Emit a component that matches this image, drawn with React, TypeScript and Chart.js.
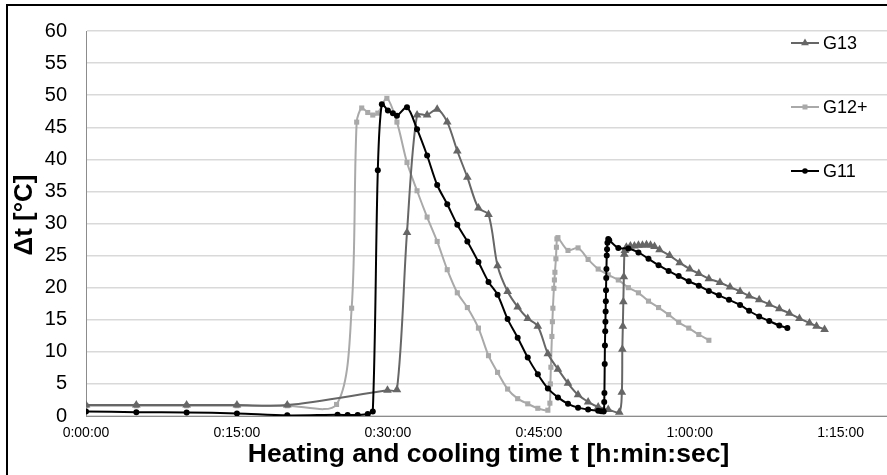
import React, { useEffect, useRef } from "react";
import { Chart, registerables } from "chart.js";

Chart.register(...registerables);

// ---- Data (time in minutes, Δt in °C) ----
const seriesLabels = ["G13", "G12+", "G11"];

const g13Time = [
  0, 5, 10, 15, 20, 29.96, 30.9, 31.9, 32.9, 33.9, 34.9, 35.9, 36.9, 37.9, 39.0, 40.0, 40.9,
  41.9, 42.9, 43.9, 44.9, 45.9, 46.9, 47.9, 48.9, 49.9, 50.9, 51.9, 53.0,
  53.25, 53.3, 53.35, 53.4, 53.45, 53.5, 53.55, 53.7, 54.1, 54.5, 54.9, 55.3, 55.7, 56.1, 56.5,
  57.0, 58.0, 59.0, 60.0, 60.9, 61.9, 63.0, 64.0, 65.0, 65.9, 66.9, 67.9, 68.9, 69.9, 70.9,
  71.9, 72.6, 73.4,
];
const g13Val = [
  1.7, 1.7, 1.7, 1.7, 1.7, 4.0, 4.1, 28.6, 46.9, 46.9, 47.8, 45.8, 41.3, 37.2, 32.4, 31.4, 23.4,
  19.4, 17.0, 15.2, 14.0, 9.7, 7.3, 5.1, 3.3, 2.2, 1.4, 1.0, 0.6,
  3.7, 10.4, 14.0, 17.8, 21.7, 25.2, 25.8, 26.3, 26.5, 26.5, 26.6, 26.6, 26.7, 26.6, 26.4,
  25.9, 25.0, 23.9, 22.9, 22.2, 21.4, 20.8, 20.1, 19.4, 18.7, 18.1, 17.4, 16.7, 16.0, 15.2,
  14.5, 14.0, 13.5,
];

const g12Time = [
  0, 5, 10, 15, 20, 24.9, 26.4, 26.9, 27.4, 28.0, 28.5, 29.0, 29.9, 30.9, 31.9, 32.9, 33.9,
  34.9, 35.9, 36.9, 37.9, 39.0, 40.0, 40.9, 41.9, 42.9, 43.9, 44.9, 45.9,
  46.1, 46.15, 46.2, 46.3, 46.35, 46.4, 46.5, 46.55, 46.6, 46.7, 46.75, 46.8, 46.9,
  47.9, 48.9, 49.9, 50.9, 51.9, 52.9, 53.9, 54.9, 55.9, 56.9, 57.9, 58.9, 59.9, 60.9, 61.9,
];
const g12Val = [
  1.6, 1.6, 1.6, 1.6, 1.6, 1.8, 16.8, 45.8, 48.0, 47.3, 46.9, 47.2, 49.5, 45.8, 39.5, 35.1, 31.0,
  27.2, 22.8, 19.2, 16.9, 13.7, 9.4, 6.8, 4.2, 2.7, 1.9, 1.2, 0.9,
  2.0, 5.0, 7.6, 12.4, 14.7, 16.8, 19.9, 21.2, 22.4, 24.5, 26.3, 27.6, 27.8,
  25.8, 26.2, 24.4, 22.9, 22.0, 21.2, 20.0, 19.2, 17.9, 16.9, 15.8, 14.6, 13.7, 12.7, 11.8,
];

const g11Time = [
  0, 5, 10, 15, 20, 25, 26, 27, 28, 28.5, 29.0, 29.4, 30.0, 30.5, 30.9, 31.9, 32.9, 33.9, 34.9,
  35.9, 36.9, 37.9, 39.0, 40.0, 40.9, 41.9, 42.9, 43.9, 44.9, 45.9, 46.9, 47.9, 48.9, 49.9,
  50.9, 51.2, 51.45, 51.5, 51.52, 51.55, 51.57, 51.6, 51.62, 51.64, 51.66, 51.68, 51.7, 51.72,
  51.75, 51.78, 51.82, 51.9, 52.0, 52.9, 53.9, 54.9, 55.9, 56.9, 57.9, 58.9, 59.9, 60.9, 61.9,
  62.9, 63.9, 65.0, 65.9, 66.9, 67.9, 68.9, 69.7,
];
const g11Val = [
  0.7, 0.6, 0.55, 0.4, 0.1, 0.2, 0.15, 0.15, 0.3, 0.7, 38.3, 48.6, 47.6, 47.2, 46.8, 48.1, 44.7,
  40.6, 36.0, 33.0, 29.8, 27.2, 24.0, 20.9, 18.9, 15.1, 12.2, 9.1, 6.5, 4.3, 2.9, 1.9, 1.3, 1.0,
  0.8, 0.75, 0.7, 2.2, 3.6, 8.1, 11.0, 13.2, 14.7, 16.3, 17.9, 19.6, 21.5, 22.9,
  25.0, 26.0, 27.0, 27.6, 27.4, 26.2, 26.1, 25.5, 24.5, 23.5, 22.6, 21.8, 21.0, 20.3, 19.5,
  18.8, 18.1, 17.3, 16.4, 15.5, 14.8, 14.1, 13.7,
];

const xTickMinutes = [0, 15, 30, 45, 60, 75];
const xMax = 80;
const yMin = 0;
const yMax = 60;
const yStep = 5;

const xTitle = "Heating and cooling time t [h:min:sec]";
const yTitle = "Δt [°C]";

const FONT = "'Liberation Sans', Arial, sans-serif";
const colors = { g13: "#666666", g12: "#a9a9a9", g11: "#000000" };

function fmtTime(min: number): string {
  const total = Math.round(min * 60);
  const h = Math.floor(total / 3600);
  const m = Math.floor((total % 3600) / 60);
  const s = total % 60;
  return `${h}:${String(m).padStart(2, "0")}:${String(s).padStart(2, "0")}`;
}

function toPoints(t: number[], v: number[]) {
  return t.map((x, i) => ({ x, y: v[i] }));
}

function drawMarker(ctx: CanvasRenderingContext2D, style: string, x: number, y: number, r: number, color: string) {
  ctx.fillStyle = color;
  ctx.beginPath();
  if (style === "triangle") {
    ctx.moveTo(x, y - r);
    ctx.lineTo(x + r * 0.866, y + r * 0.5);
    ctx.lineTo(x - r * 0.866, y + r * 0.5);
    ctx.closePath();
  } else if (style === "rect") {
    ctx.rect(x - r, y - r, 2 * r, 2 * r);
  } else {
    ctx.arc(x, y, r, 0, Math.PI * 2);
  }
  ctx.fill();
}

const legendPlugin = {
  id: "customLegend",
  afterDraw(chart: any) {
    const ctx: CanvasRenderingContext2D = chart.ctx;
    const items = [
      { label: seriesLabels[0], color: colors.g13, style: "triangle", r: 4.5, y: 43 },
      { label: seriesLabels[1], color: colors.g12, style: "rect", r: 2.5, y: 107 },
      { label: seriesLabels[2], color: colors.g11, style: "circle", r: 2.8, y: 171 },
    ];
    ctx.save();
    items.forEach((it) => {
      ctx.strokeStyle = it.color;
      ctx.lineWidth = 2;
      ctx.beginPath();
      ctx.moveTo(791, it.y);
      ctx.lineTo(819, it.y);
      ctx.stroke();
      drawMarker(ctx, it.style, 805, it.y, it.r, it.color);
      ctx.fillStyle = "#000";
      ctx.font = `18px ${FONT}`;
      ctx.textBaseline = "middle";
      ctx.textAlign = "left";
      ctx.fillText(it.label, 823, it.y + 1);
    });
    // y-axis title
    ctx.translate(25, 215);
    ctx.rotate(-Math.PI / 2);
    ctx.font = `bold 26px ${FONT}`;
    ctx.textAlign = "center";
    ctx.textBaseline = "middle";
    ctx.fillStyle = "#000";
    ctx.fillText(yTitle, 0, 0);
    ctx.restore();
  },
};

const framePlugin = {
  id: "frame",
  afterDraw(chart: any) {
    const ctx: CanvasRenderingContext2D = chart.ctx;
    ctx.save();
    ctx.strokeStyle = "#000";
    ctx.lineWidth = 2;
    ctx.strokeRect(7, 5, chart.width + 20, chart.height + 20);
    ctx.restore();
  },
};

export default function App() {
  const ref = useRef<HTMLCanvasElement | null>(null);

  useEffect(() => {
    if (!ref.current) return;
    const common = {
      borderWidth: 2,
      tension: 0.3,
      pointBorderWidth: 0,
      fill: false,
    };
    const chart = new Chart(ref.current, {
      type: "line",
      data: {
        datasets: [
          {
            ...common,
            label: seriesLabels[2],
            data: toPoints(g11Time, g11Val),
            borderColor: colors.g11,
            backgroundColor: colors.g11,
            pointStyle: "circle",
            pointRadius: 3,
          },
          {
            ...common,
            label: seriesLabels[0],
            data: toPoints(g13Time, g13Val),
            borderColor: colors.g13,
            backgroundColor: colors.g13,
            pointStyle: "triangle",
            pointRadius: 5,
          },
          {
            ...common,
            label: seriesLabels[1],
            data: toPoints(g12Time, g12Val),
            borderColor: colors.g12,
            backgroundColor: colors.g12,
            pointStyle: "rect",
            pointRadius: 3.6,
          },
        ],
      },
      options: {
        animation: false,
        responsive: false,
        maintainAspectRatio: false,
        layout: { padding: { top: 26, left: 0, right: 0, bottom: 0 } },
        plugins: {
          legend: { display: false },
          tooltip: { enabled: false },
        },
        scales: {
          x: {
            type: "linear",
            min: 0,
            max: xMax,
            afterBuildTicks: (scale: any) => {
              scale.ticks = xTickMinutes.map((v) => ({ value: v }));
            },
            afterFit: (scale: any) => {
              scale.height = 59;
            },
            ticks: {
              callback: (v: any) => fmtTime(Number(v)),
              font: { family: FONT, size: 14 },
              color: "#000",
              padding: 9,
              maxRotation: 0,
              autoSkip: false,
            },
            grid: { display: true, color: "rgba(0,0,0,0)", drawTicks: false },
            border: { display: true, color: "#8c8c8c", width: 1 },
            title: {
              display: true,
              text: xTitle,
              font: { family: FONT, size: 26.5, weight: "bold" },
              color: "#000",
              padding: { top: 0, bottom: 4 },
            },
          },
          y: {
            type: "linear",
            min: yMin,
            max: yMax,
            afterFit: (scale: any) => {
              scale.width = 86;
            },
            ticks: {
              stepSize: yStep,
              font: { family: FONT, size: 20 },
              color: "#000",
              padding: 19,
            },
            grid: { color: "#d9d9d9", lineWidth: 1.5, drawTicks: false },
            border: { display: true, color: "#8c8c8c", width: 1 },
            title: { display: false },
          },
        },
      } as any,
      plugins: [legendPlugin, framePlugin],
    });
    return () => chart.destroy();
  }, []);

  return (
    <div
      style={{
        position: "fixed",
        left: 0,
        top: 0,
        width: 887,
        height: 475,
        overflow: "hidden",
        background: "#fff",
      }}
    >
      <canvas ref={ref} width={896} height={475} style={{ display: "block", width: 896, height: 475 }} />
    </div>
  );
}
